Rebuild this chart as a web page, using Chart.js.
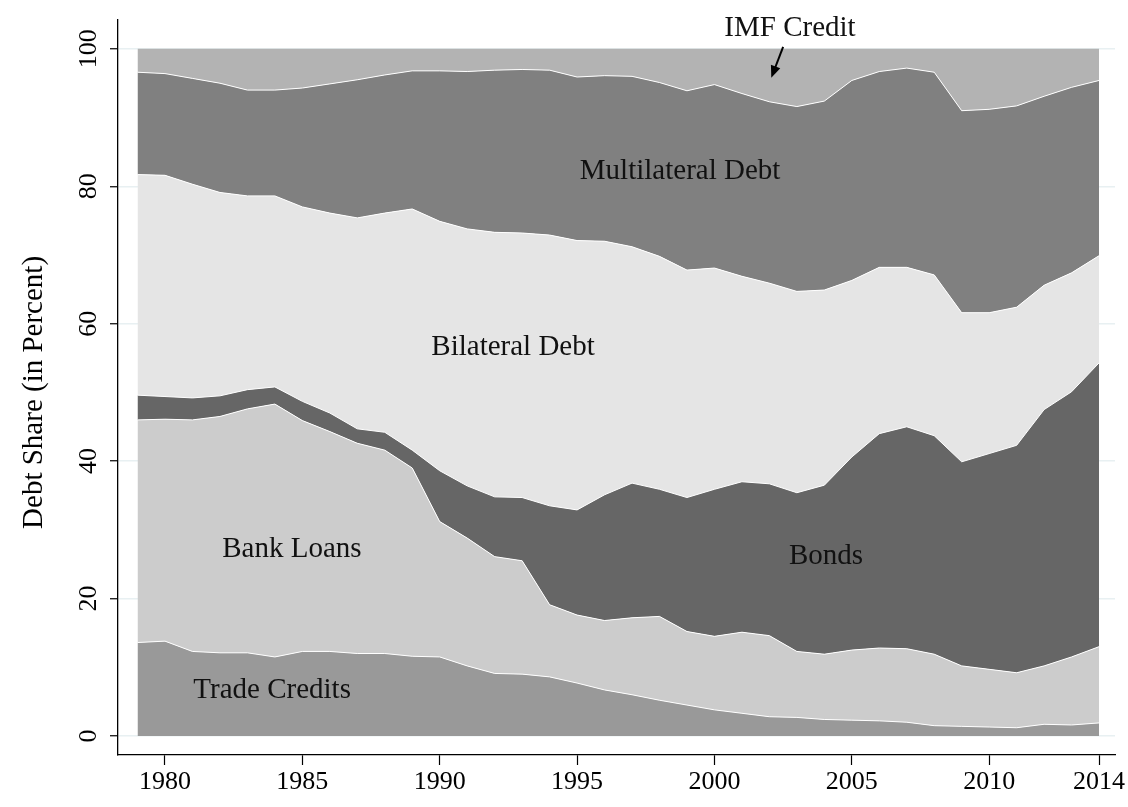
<!DOCTYPE html>
<html>
<head>
<meta charset="utf-8">
<script src="https://cdn.jsdelivr.net/npm/chart.js@4.4.1/dist/chart.umd.min.js"></script>
<style>
html, body { margin: 0; padding: 0; background: #fff; }
</style>
</head>
<body>
<canvas id="myChart" width="1128" height="807"></canvas>
<script>
const years = [1979, 1980, 1981, 1982, 1983, 1984, 1985, 1986, 1987, 1988, 1989,
    1990, 1991, 1992, 1993, 1994, 1995, 1996, 1997, 1998, 1999,
    2000, 2001, 2002, 2003, 2004, 2005, 2006, 2007, 2008, 2009,
    2010, 2011, 2012, 2013, 2014];
const tradeCredits = [13.6, 13.8, 12.3, 12.1, 12.1, 11.5, 12.3, 12.3, 12.0, 12.0, 11.6,
    11.5, 10.2, 9.1, 9.0, 8.6, 7.7, 6.7, 6.0, 5.2, 4.5,
    3.8, 3.3, 2.8, 2.7, 2.4, 2.3, 2.2, 2.0, 1.5, 1.4,
    1.3, 1.2, 1.7, 1.6, 1.9];
const bankLoans = [32.4, 32.3, 33.7, 34.4, 35.5, 36.8, 33.6, 32.0, 30.6, 29.6, 27.4,
    19.7, 18.6, 17.0, 16.5, 10.5, 9.9, 10.1, 11.2, 12.2, 10.7,
    10.7, 11.8, 11.8, 9.6, 9.5, 10.2, 10.6, 10.7, 10.4, 8.8,
    8.4, 8.0, 8.5, 9.9, 11.1];
const bonds = [3.6, 3.3, 3.2, 3.0, 2.8, 2.5, 2.8, 2.7, 2.1, 2.6, 2.6,
    7.4, 7.6, 8.7, 9.2, 14.4, 15.3, 18.3, 19.6, 18.5, 19.5,
    21.4, 21.9, 22.1, 23.1, 24.6, 28.1, 31.2, 32.3, 31.8, 29.7,
    31.4, 33.1, 37.3, 38.6, 41.3];
const bilateral = [32.1, 32.2, 31.1, 29.6, 28.2, 27.8, 28.3, 29.1, 30.7, 31.9, 35.1,
    36.3, 37.4, 38.5, 38.5, 39.4, 39.2, 36.9, 34.4, 33.9, 33.1,
    32.2, 29.9, 29.2, 29.3, 28.4, 25.7, 24.2, 23.2, 23.4, 21.7,
    20.5, 20.1, 18.1, 17.3, 15.6];
const multilateral = [14.9, 14.8, 15.4, 15.9, 15.4, 15.4, 17.3, 18.8, 20.1, 20.1, 20.1,
    21.9, 22.9, 23.6, 23.8, 24.0, 23.8, 24.1, 24.8, 25.3, 26.1,
    26.7, 26.6, 26.4, 26.9, 27.5, 29.1, 28.5, 29.0, 29.5, 29.4,
    29.6, 29.3, 27.5, 27.0, 25.5];
const imfCredit = [3.4, 3.6, 4.3, 5.0, 6.0, 6.0, 5.7, 5.1, 4.5, 3.8, 3.2,
    3.2, 3.3, 3.1, 3.0, 3.1, 4.1, 3.9, 4.0, 4.9, 6.1,
    5.2, 6.5, 7.7, 8.4, 7.6, 4.6, 3.3, 2.8, 3.4, 9.0,
    8.8, 8.3, 6.9, 5.6, 4.6];

const xTicks = [1980, 1985, 1990, 1995, 2000, 2005, 2010, 2014];
const yTicks = [0, 20, 40, 60, 80, 100];

const seriesNames = ["Trade Credits", "Bank Loans", "Bonds", "Bilateral Debt", "Multilateral Debt", "IMF Credit"];
const seriesValues = [tradeCredits, bankLoans, bonds, bilateral, multilateral, imfCredit];
const grays = ["#999999", "#cccccc", "#666666", "#e5e5e5", "#808080", "#b3b3b3"];

// label spots, in data units (year, percent)
const areaLabels = [
    ["Multilateral Debt", 1998.75, 82.1],
    ["Bilateral Debt", 1992.67, 56.5],
    ["Bank Loans", 1984.62, 27.2],
    ["Bonds", 2004.06, 26.1],
    ["Trade Credits", 1983.9, 6.6],
    ["IMF Credit", 2002.75, 103.0]
];
const imfArrow = [[2002.5, 100.3], [2002.07, 95.8]];

const serif = "'Liberation Serif', 'Times New Roman', serif";

const datasets = seriesNames.map((name, i) => ({
    label: name,
    data: years.map((yr, j) => ({ x: yr, y: seriesValues[i][j] })),
    backgroundColor: grays[i],
    borderColor: "#ffffff",
    borderWidth: i === 5 ? 0 : 1,
    fill: i === 0 ? "origin" : "-1",
    pointRadius: 0,
    tension: 0
}));

const textPlugin = {
    id: "texts",
    afterDraw(chart) {
        const ctx = chart.ctx;
        const xs = chart.scales.x;
        const ys = chart.scales.y;
        ctx.save();
        ctx.fillStyle = "#000";
        ctx.textAlign = "center";
        ctx.textBaseline = "middle";

        // y tick labels, rotated
        ctx.font = "26px " + serif;
        yTicks.forEach(v => {
            ctx.save();
            ctx.translate(89, ys.getPixelForValue(v));
            ctx.rotate(-Math.PI / 2);
            ctx.fillText(String(v), 0, 0);
            ctx.restore();
        });

        // y title
        ctx.font = "29px " + serif;
        ctx.save();
        ctx.translate(34, ys.getPixelForValue(50));
        ctx.rotate(-Math.PI / 2);
        ctx.fillText("Debt Share (in Percent)", 0, 0);
        ctx.restore();

        // area labels
        ctx.fillStyle = "#111";
        areaLabels.forEach(l => {
            ctx.fillText(l[0], xs.getPixelForValue(l[1]), ys.getPixelForValue(l[2]));
        });

        // arrow to IMF band
        const x0 = xs.getPixelForValue(imfArrow[0][0]), y0 = ys.getPixelForValue(imfArrow[0][1]);
        const x1 = xs.getPixelForValue(imfArrow[1][0]), y1 = ys.getPixelForValue(imfArrow[1][1]);
        const ang = Math.atan2(y1 - y0, x1 - x0);
        ctx.strokeStyle = "#000";
        ctx.lineWidth = 2;
        ctx.beginPath();
        ctx.moveTo(x0, y0);
        ctx.lineTo(x1 - 8 * Math.cos(ang), y1 - 8 * Math.sin(ang));
        ctx.stroke();
        ctx.beginPath();
        ctx.moveTo(x1, y1);
        ctx.lineTo(x1 - 12 * Math.cos(ang) + 5 * Math.sin(ang), y1 - 12 * Math.sin(ang) - 5 * Math.cos(ang));
        ctx.lineTo(x1 - 12 * Math.cos(ang) - 5 * Math.sin(ang), y1 - 12 * Math.sin(ang) + 5 * Math.cos(ang));
        ctx.closePath();
        ctx.fillStyle = "#000";
        ctx.fill();
        ctx.restore();
    }
};

new Chart("myChart", {
    type: "line",
    data: { datasets: datasets },
    plugins: [textPlugin],
    options: {
        responsive: false,
        animation: false,
        devicePixelRatio: 1,
        layout: { padding: { top: 20, right: 13, left: 0, bottom: 0 } },
        plugins: {
            legend: { display: false },
            tooltip: { enabled: false },
            filler: { propagate: false }
        },
        scales: {
            x: {
                type: "linear",
                min: 1978.29,
                max: 2014.58,
                afterBuildTicks: s => { s.ticks = xTicks.map(v => ({ value: v })); },
                afterFit: s => { s.height = 52; },
                grid: { drawOnChartArea: false, tickLength: 10, tickColor: "#000", tickWidth: 1.2 },
                border: { color: "#000", width: 1.3 },
                ticks: {
                    color: "#000",
                    font: { family: serif, size: 26 },
                    padding: 2,
                    maxRotation: 0,
                    callback: v => String(v)
                }
            },
            y: {
                stacked: true,
                min: -2.77,
                max: 104.2,
                afterBuildTicks: s => { s.ticks = yTicks.map(v => ({ value: v })); },
                afterFit: s => { s.width = 118; },
                grid: { color: "#e8f0f2", lineWidth: 1.5, tickLength: 8, tickColor: "#000", tickWidth: 1.2 },
                border: { color: "#000", width: 1.3 },
                ticks: { display: false }
            }
        }
    }
});
</script>
</body>
</html>
